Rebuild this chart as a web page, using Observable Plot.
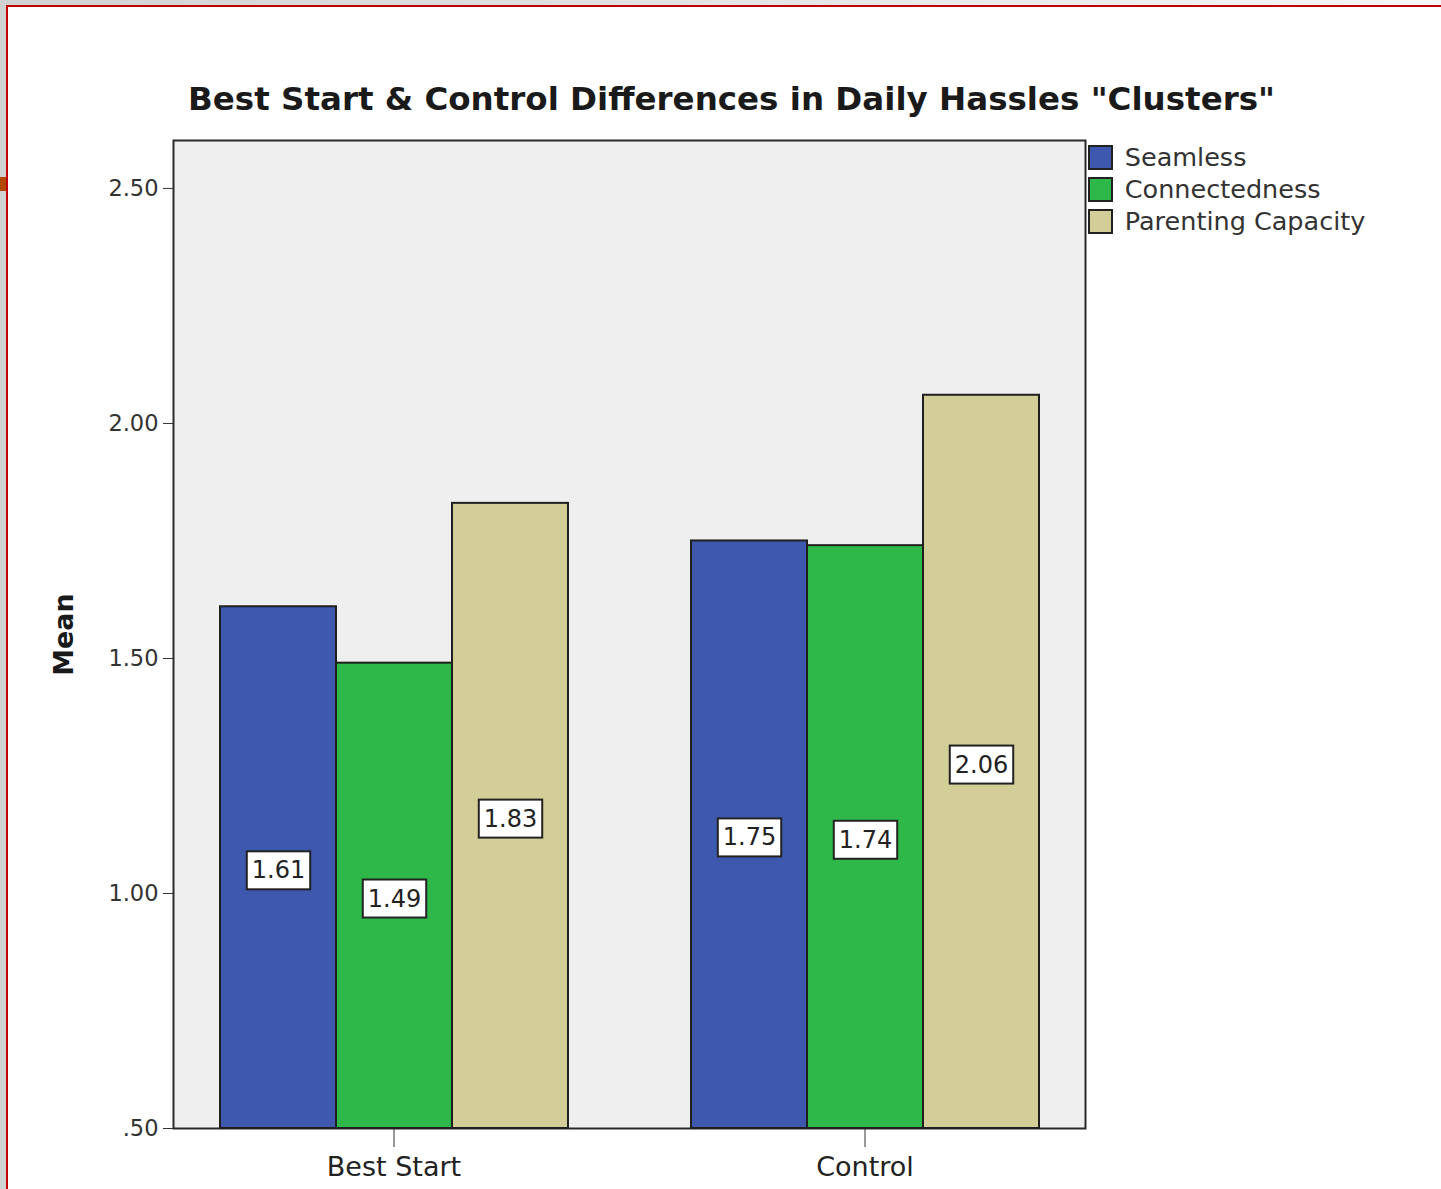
<!DOCTYPE html>
<html><head><meta charset="utf-8">
<script src="https://cdn.jsdelivr.net/npm/d3@7"></script>
<script src="https://cdn.jsdelivr.net/npm/@observablehq/plot@0.6"></script>
<style>
html,body{margin:0;padding:0;}
body{width:1441px;height:1189px;position:relative;overflow:hidden;background:linear-gradient(to right,#d2d2d2,#f6f6f6);font-family:"DejaVu Sans",sans-serif;}
#frame{position:absolute;left:6px;top:5px;right:0;bottom:0;background:#fff;border-top:2px solid #c00000;border-left:2px solid #c00000;}
#mark{position:absolute;left:0;top:177px;width:6px;height:14px;background:#b04800;}
#chart{position:absolute;left:0;top:0;width:1441px;}
#title{position:relative;height:128px;}
#title span{position:absolute;left:188px;top:80px;font-weight:bold;font-size:32.5px;color:#1a1a1a;white-space:nowrap;}
#plots{position:relative;width:1441px;}
#plots svg.layer2{position:absolute;left:0;top:0;}
#legend{position:absolute;left:1089px;top:142px;}
#legend svg rect{stroke:#222;stroke-width:2px;}
#legend svg{overflow:visible;}
#legend div{line-height:31px;}
g[aria-label="y-axis label"] text{font-weight:bold;font-size:27px;fill:#1a1a1a;}
</style>
</head><body>
<div id="frame"></div><div id="mark"></div>
<div id="chart"><div id="title"><span></span></div><div id="plots"></div></div>
<div id="legend"></div>
<script>
const titleText = 'Best Start & Control Differences in Daily Hassles "Clusters"';
const groups = ["Best Start", "Control"];
const series = ["Seamless", "Connectedness", "Parenting Capacity"];
const seamless = [1.61, 1.75];
const connectedness = [1.49, 1.74];
const parenting = [1.83, 2.06];
const colors = ["#3e58ad", "#2fb84a", "#d3ce97"];
const yTicks = [0.5, 1.0, 1.5, 2.0, 2.5];
const yDomain = [0.5, 2.602];
const yLabel = "Mean";

const seriesValues = [seamless, connectedness, parenting];
const data = [];
groups.forEach((g, gi) => series.forEach((s, si) => data.push({group: g, series: s, value: seriesValues[si][gi]})));
const base = yDomain[0];
const fmt = d => d3.format(".2f")(d).replace(/^0\./, ".");

document.querySelector("#title span").textContent = titleText;

const common = {
  width: 1441, height: 1061,
  marginTop: 12, marginBottom: 61, marginLeft: 173, marginRight: 356,
  style: {fontFamily: "DejaVu Sans, sans-serif", fontSize: "22.5px", color: "#333", background: "transparent", overflow: "visible"}
};

// layer 1: plot area background, frame and y axis
const back = Plot.plot({
  ...common,
  y: {domain: yDomain, ticks: yTicks, tickFormat: fmt, tickSize: 10, tickPadding: 5, label: yLabel, labelArrow: "none", labelAnchor: "center", labelOffset: 120},
  marks: [
    Plot.frame({fill: "#efefef", stroke: "#2a2a2a", strokeWidth: 2})
  ]
});

// layer 2: grouped bars with value labels
const front = Plot.plot({
  ...common,
  fx: {domain: groups, paddingInner: 0.26, paddingOuter: 0.097, label: null, tickSize: 19, tickPadding: 9, axis: "bottom"},
  x: {domain: series, paddingInner: 0, paddingOuter: 0, axis: null},
  y: {domain: yDomain, axis: null},
  color: {domain: series, range: colors},
  marks: [
    Plot.barY(data, {fx: "group", x: "series", y1: base, y2: "value", fill: "series", stroke: "#1f1f1f", strokeWidth: 2}),
    Plot.text(data, {fx: "group", x: "series", y: d => (base + d.value) / 2, text: d => d.value.toFixed(2), fontSize: 24, fill: "#222", dy: 3, className: "vlabel"})
  ]
});
front.classList.add("layer2");
const plots = document.getElementById("plots");
plots.appendChild(back);
plots.appendChild(front);

front.querySelectorAll('g[aria-label="fx-axis tick label"] text, g[aria-label="fx-axis"] text').forEach(t => { t.style.fontSize = "27px"; t.style.fill = "#222"; });
back.querySelectorAll('g[aria-label="y-axis label"] text').forEach(t => { t.textContent = t.textContent.replace(/[↑↓←→]/g, "").trim(); });

// white boxes behind value labels
front.querySelectorAll("g.vlabel text").forEach(t => {
  const b = t.getBBox();
  const r = document.createElementNS("http://www.w3.org/2000/svg", "rect");
  r.setAttribute("x", b.x - 5); r.setAttribute("y", b.y - 5);
  r.setAttribute("width", b.width + 10); r.setAttribute("height", b.height + 10);
  r.setAttribute("fill", "#fff"); r.setAttribute("stroke", "#222"); r.setAttribute("stroke-width", 2);
  if (t.getAttribute("transform")) r.setAttribute("transform", t.getAttribute("transform"));
  t.parentNode.insertBefore(r, t);
});

const lg = Plot.legend({color: {domain: series, range: colors}, legend: "swatches", columns: 1, swatchSize: 23, className: "lg",
  style: {fontSize: "25.5px", fontFamily: "DejaVu Sans, sans-serif", color: "#333"}});
document.getElementById("legend").appendChild(lg);
</script>
</body></html>
